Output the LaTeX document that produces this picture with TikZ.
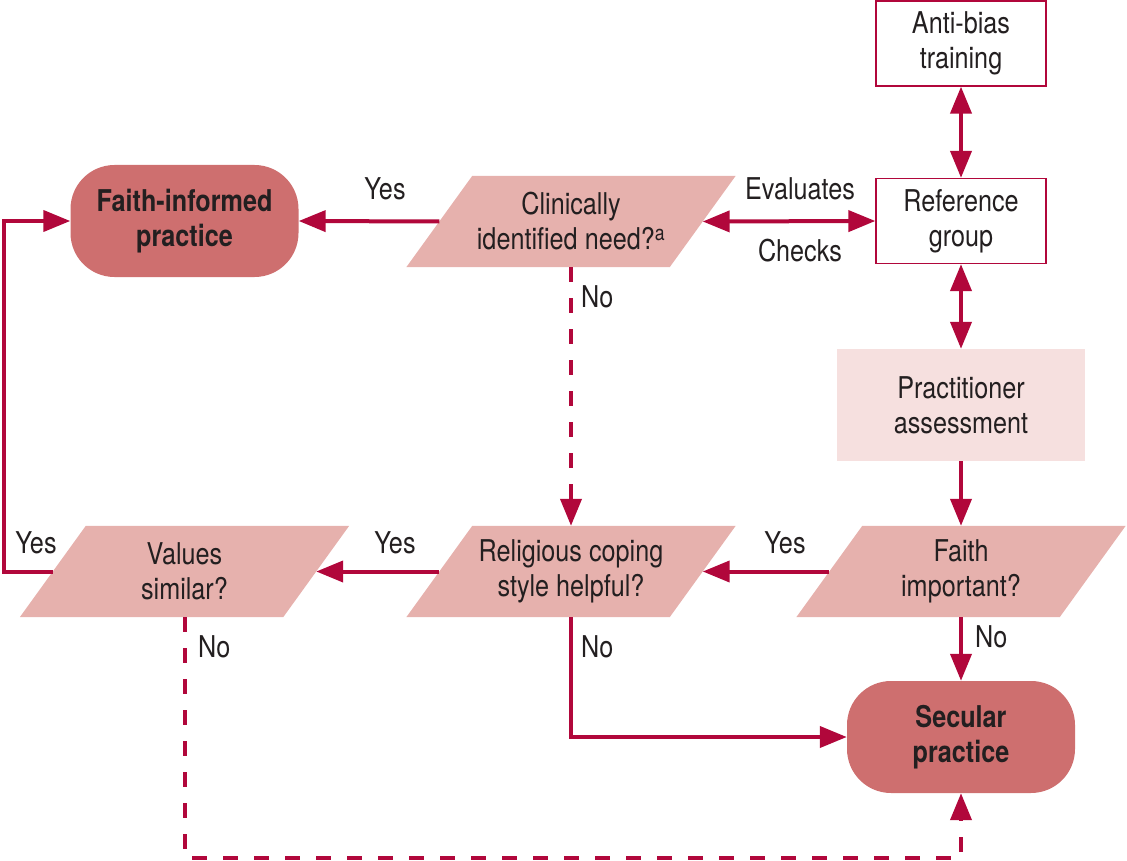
\documentclass[tikz,border=0pt]{standalone}
\usepackage{fontspec}
\setmainfont{TeX Gyre Heros}[FakeStretch=0.84]
\usetikzlibrary{arrows.meta,backgrounds,calc}
\definecolor{crim}{HTML}{B1073B}
\definecolor{parafill}{HTML}{E6B1AD}
\definecolor{endfill}{HTML}{CE6F6F}
\definecolor{pracfill}{HTML}{F6E0DF}
\definecolor{txt}{HTML}{231F20}
\begin{document}
\begin{tikzpicture}[x=1pt,y=1pt,
 every node/.style={font=\fontsize{30}{35}\selectfont, text=txt, align=center, inner sep=0pt},
 para/.style={minimum width=263pt, minimum height=91pt},
 endbox/.style={fill=endfill, rounded corners=44pt, minimum width=228pt, minimum height=112pt, font=\fontsize{30}{35}\selectfont\bfseries},
 refbox/.style={draw=crim, line width=1.3pt, fill=white, minimum width=170pt, minimum height=85pt},
 pracbox/.style={fill=pracfill, minimum width=248pt, minimum height=112pt},
 tipA/.tip={Triangle[length=27pt,width=21pt]},
 conn/.style={draw=crim, line width=4pt, -tipA},
 biconn/.style={draw=crim, line width=4pt, tipA-tipA},
 dconn/.style={conn, dash pattern=on 15pt off 16pt},
 lbl/.style={}
]
\useasboundingbox (0,0) rectangle (1127,-861);

% nodes
\node[refbox] (anti) at (961,-43.5) {Anti-bias\\training};
\node[refbox] (ref) at (961,-221) {Reference\\group};
\node[pracbox] (prac) at (961,-405) {Practitioner\\assessment};
\node[para] (clin) at (571,-221.5) {Clinically\\identified need?\textsuperscript{a}};
\node[endbox] (fi) at (184.5,-221) {Faith-informed\\practice};
\node[para] (faith) at (961,-571.5) {Faith\\important?};
\node[para] (rel) at (571,-571.5) {Religious coping\\style helpful?};
\node[para] (val) at (184.5,-571.5) {Values\\similar?};
\node[endbox] (sec) at (961,-737) {Secular\\practice};

% parallelogram shapes
\begin{scope}[on background layer]
\foreach \n in {clin,faith,rel,val}{
  \fill[parafill] ($(\n.north west)+(33,0)$) -- ($(\n.north east)+(33,0)$)
     -- ($(\n.south east)+(-33,0)$) -- ($(\n.south west)+(-33,0)$) -- cycle;
}
\end{scope}

% connectors
\draw[conn] (clin.west) -- (fi.east);
\draw[biconn] (clin.east) -- (ref.west);
\draw[biconn] (anti.south) -- (ref.north);
\draw[biconn] (ref.south) -- (prac.north);
\draw[conn] (prac.south) -- (faith.north);
\draw[conn] (faith.west) -- (rel.east);
\draw[conn] (faith.south) -- (sec.north);
\draw[conn] (rel.west) -- (val.east);
\draw[conn] (rel.south) |- (sec.west);
\draw[conn] (val.west) -- ++(-49,0) |- (fi.west);
\draw[dconn] (clin.south) -- (rel.north);
\draw[dconn] (val.south) -- ++(0,-240.5) -| (sec.south);

% labels
\node[lbl] (l1) at (385,-189) {Yes};
\node[lbl] (l2) at (800,-189) {Evaluates};
\node[lbl] (l3) at (800,-251) {Checks};
\node[lbl, anchor=west] (l4) at (581,-297) {No};
\node[lbl] (l5) at (36,-543) {Yes};
\node[lbl] (l6) at (395,-543) {Yes};
\node[lbl] (l7) at (785,-543) {Yes};
\node[lbl, anchor=west] (l8) at (975,-637) {No};
\node[lbl, anchor=west] (l9) at (581,-647) {No};
\node[lbl, anchor=west] (l10) at (198,-647) {No};
\end{tikzpicture}
\end{document}
